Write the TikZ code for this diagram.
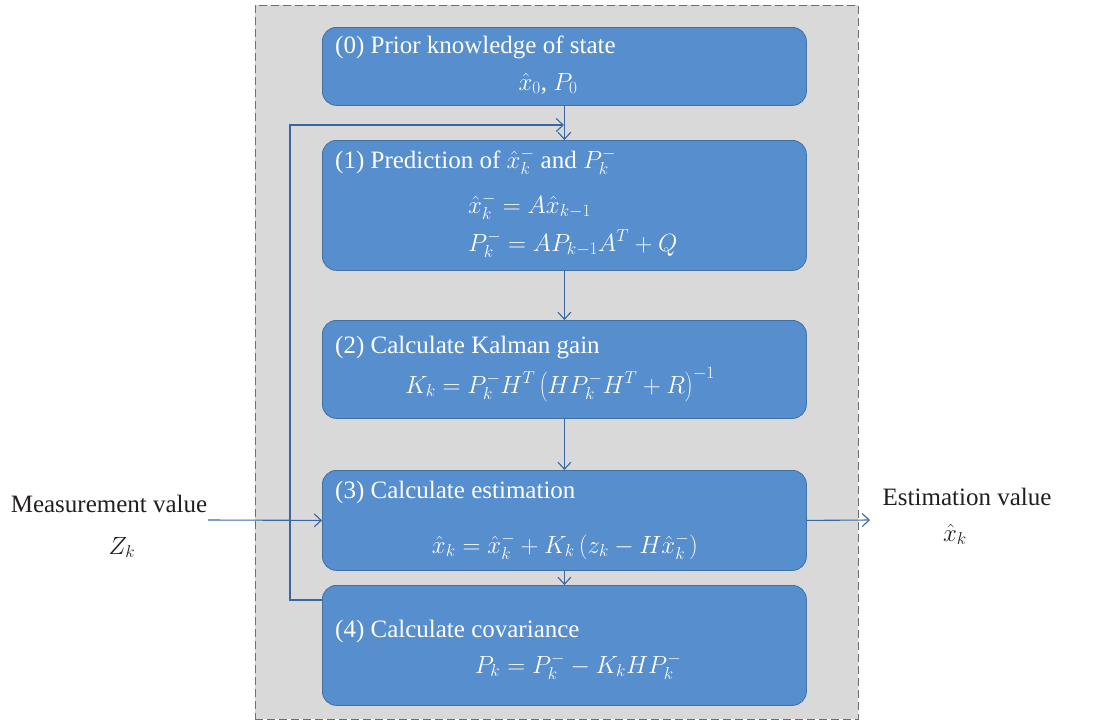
\documentclass[tikz,border=0pt]{standalone}
\usepackage{fontspec}
\setmainfont{Liberation Serif}
\usetikzlibrary{arrows.meta}
\definecolor{boxfill}{RGB}{86,142,206}
\definecolor{boxdraw}{RGB}{65,113,160}
\definecolor{linecol}{RGB}{58,103,160}
\definecolor{bggray}{RGB}{217,217,217}
\definecolor{dashgray}{RGB}{110,110,110}
\definecolor{txtdark}{RGB}{35,31,32}
\begin{document}
\begin{tikzpicture}[x=1pt,y=-1pt,
  stepbox/.style={draw=boxdraw, fill=boxfill, rounded corners=14pt, line width=0.8pt,
    inner sep=0pt, minimum width=484pt, anchor=north west},
  boxtext/.style={text=white, font=\fontsize{25}{29}\selectfont, inner sep=0pt},
  outtext/.style={text=txtdark, font=\fontsize{25}{29}\selectfont, inner sep=0pt},
  conn/.style={draw=linecol, line width=1.1pt, -{Straight Barb[length=7pt,width=13pt]}}
  ]
\useasboundingbox (0,0) rectangle (1104,721);
\node[fill=bggray, draw=dashgray, dash pattern=on 8pt off 4pt, line width=0.8pt,
  minimum width=603pt, minimum height=714pt, inner sep=0pt, anchor=north west] (bg) at (255,5) {};

\node[stepbox, minimum height=78pt]  (b0) at (322,27) {};
\node[stepbox, minimum height=130pt] (b1) at (322,140) {};
\node[stepbox, minimum height=98pt]  (b2) at (322,320) {};
\node[stepbox, minimum height=100pt] (b3) at (322,470) {};
\node[stepbox, minimum height=120pt] (b4) at (322,585) {};

\node[boxtext, anchor=base west] (t0) at (335,53) {(0) Prior knowledge of state};
\node[boxtext, anchor=base] (e0) at (548,90) {$\hat{x}_0$, $P_0$};

\node[boxtext, anchor=base west] (t1) at (335,168) {(1) Prediction of $\hat{x}_k^-$ and $P_k^-$};
\node[boxtext, anchor=base west] (e1a) at (468,213) {$\hat{x}_k^- = A\hat{x}_{k-1}$};
\node[boxtext, anchor=base west] (e1b) at (468,251) {$P_k^- = AP_{k-1}A^T + Q$};

\node[boxtext, anchor=base west] (t2) at (335,353) {(2) Calculate Kalman gain};
\node[boxtext, anchor=base] (e2) at (560,393) {$K_k = P_k^- H^T\left(HP_k^-H^T + R\right)^{-1}$};

\node[boxtext, anchor=base west] (t3) at (335,498) {(3) Calculate estimation};
\node[boxtext, anchor=base] (e3) at (565,553) {$\hat{x}_k = \hat{x}_k^- + K_k\left(z_k - H\hat{x}_k^-\right)$};

\node[boxtext, anchor=base west] (t4) at (335,637) {(4) Calculate covariance};
\node[boxtext, anchor=base] (e4) at (578,673) {$P_k = P_k^- - K_kHP_k^-$};

\node[outtext, anchor=base] (mv) at (109,512) {Measurement value};
\node[outtext, anchor=base] (zk) at (122,554) {$Z_k$};
\node[outtext, anchor=base] (ev) at (967,505) {Estimation value};
\node[outtext, anchor=base] (xk) at (955,541) {$\hat{x}_k$};

\coordinate (lj) at (564,125);
\coordinate (lb) at (290,600);
\coordinate (lt) at (290,125);
\coordinate (min) at (208,520);
\coordinate (eout) at (870,520);

\draw[conn] (b0.south) -- (b1.north);
\draw[conn] (b1.south) -- (b2.north);
\draw[conn] (b2.south) -- (b3.north);
\draw[conn] (b3.south) -- (b4.north);
\draw[conn] ([yshift=-15pt]b4.north west) -- (lb) -- (lt) -- (lj);
\draw[conn] (min) -- (b3.west);
\draw[conn] (b3.east) -- (eout);
\end{tikzpicture}
\end{document}
